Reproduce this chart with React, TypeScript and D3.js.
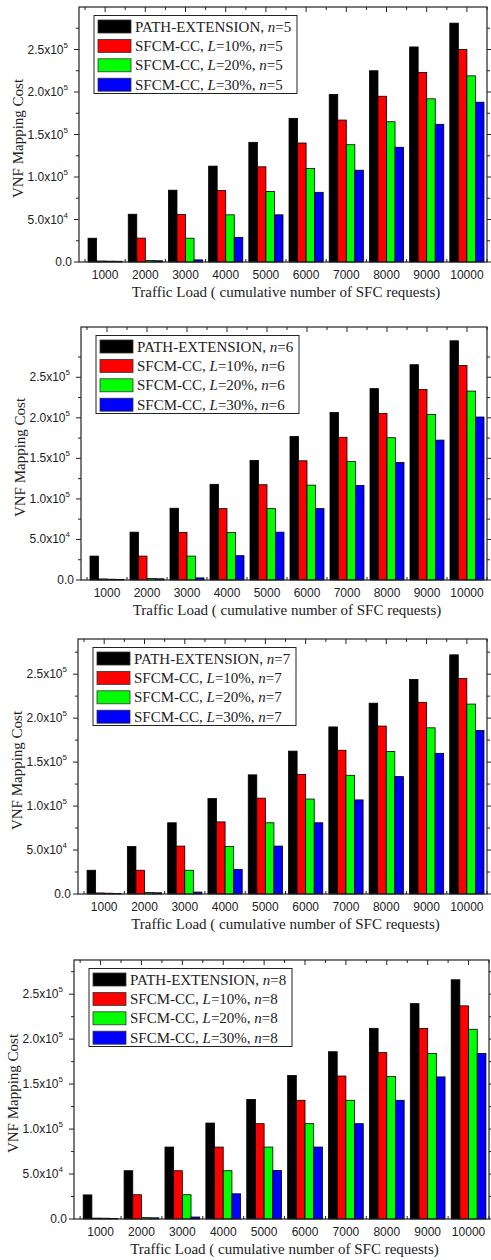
import React from 'react';
import * as d3 from 'd3';

// x categories
const loads = [1000, 2000, 3000, 4000, 5000, 6000, 7000, 8000, 9000, 10000];
const nValues = [5, 6, 7, 8];
const lValues = [10, 20, 30];
const yTicks = [0, 50000, 100000, 150000, 200000, 250000];
const yTickText = ['0.0', '5.0x10|4', '1.0x10|5', '1.5x10|5', '2.0x10|5', '2.5x10|5'];
const yMaxes = [300000, 312000, 290000, 288000];

// n = 5
const pathN5 = [28000, 56200, 84500, 112800, 140800, 169000, 197000, 225000, 253000, 281000];
const cc10N5 = [1200, 28100, 56000, 84000, 112000, 140000, 167000, 195000, 223000, 250000];
const cc20N5 = [1000, 1800, 28000, 55500, 83000, 110000, 138000, 165000, 192000, 219000];
const cc30N5 = [900, 1500, 2500, 29000, 55500, 82000, 108000, 135000, 162000, 188000];
// n = 6
const pathN6 = [29500, 59000, 88500, 118000, 147500, 177000, 206500, 236000, 265500, 295000];
const cc10N6 = [1300, 29500, 58800, 88000, 117500, 147000, 176000, 205500, 235000, 264500];
const cc20N6 = [1000, 2000, 29500, 58500, 88000, 117000, 146000, 175500, 204000, 233000];
const cc30N6 = [800, 1500, 2600, 30000, 59000, 88000, 116500, 145000, 172500, 201000];
// n = 7
const pathN7 = [27000, 54000, 81000, 108500, 135500, 162500, 190000, 217000, 244000, 272000];
const cc10N7 = [1200, 27000, 54500, 82000, 109000, 136000, 163500, 191000, 218000, 245000];
const cc20N7 = [900, 1800, 27000, 54000, 81000, 108000, 135000, 162000, 189000, 216000];
const cc30N7 = [700, 1400, 2200, 28000, 54500, 81000, 107000, 133500, 160000, 186000];
// n = 8
const pathN8 = [26800, 53700, 80000, 106700, 133000, 159600, 186000, 212000, 239500, 266000];
const cc10N8 = [1000, 27000, 53700, 80000, 106000, 132000, 159000, 185000, 212000, 237000];
const cc20N8 = [900, 1500, 27000, 53700, 80000, 106000, 132000, 158400, 184000, 211000];
const cc30N8 = [700, 1300, 2200, 28000, 54000, 80000, 106000, 132000, 158000, 184000];

const panelData = [
  [pathN5, cc10N5, cc20N5, cc30N5],
  [pathN6, cc10N6, cc20N6, cc30N6],
  [pathN7, cc10N7, cc20N7, cc30N7],
  [pathN8, cc10N8, cc20N8, cc30N8],
];

const colors = ['#000000', '#ff0000', '#00ff00', '#0000ff'];

// frame positions of each panel
const frames = [
  { top: 7, bottom: 262, left: 79, right: 487 },
  { top: 327, bottom: 580, left: 81, right: 487 },
  { top: 639, bottom: 894, left: 78, right: 487 },
  { top: 960, bottom: 1219, left: 74, right: 489 },
];

const sans = 'Arial, "Liberation Sans", sans-serif';
const serif = '"Times New Roman", "Liberation Serif", serif';

function Panel({ idx }: { idx: number }) {
  const f = frames[idx];
  const data = panelData[idx];
  const n = nValues[idx];
  const x = d3.scaleLinear().domain([0.35, 10.5]).range([f.left, f.right]);
  const y = d3.scaleLinear().domain([0, yMaxes[idx]]).range([f.bottom, f.top]);
  const sub = d3.scaleBand<number>().domain([0, 1, 2, 3]).range([-0.425, 0.425]);
  const bw = x(sub.bandwidth()) - x(0);

  const minor = d3.range(25000, yMaxes[idx] - 5000, 50000);
  const centers = loads.map((_, i) => i + 1);
  const bounds = d3.range(0, 11).map((i) => i + 0.5);

  const legendRows = [
    [{ t: 'PATH-EXTENSION, ' }, { t: 'n', i: true }, { t: `=${n}` }],
    ...lValues.map((l) => [
      { t: 'SFCM-CC, ' },
      { t: 'L', i: true },
      { t: `=${l}%, ` },
      { t: 'n', i: true },
      { t: `=${n}` },
    ]),
  ];

  const lx = f.left + 15;
  const ly = f.top + 8.5;

  return (
    <g>
      {/* bars */}
      {data.map((vals, s) =>
        vals.map((v, i) => (
          <rect
            key={`${s}-${i}`}
            x={x(i + 1 + (sub(s) as number))}
            y={y(v)}
            width={bw}
            height={y(0) - y(v)}
            fill={colors[s]}
            stroke="#000"
            strokeWidth={0.8}
          />
        ))
      )}
      {/* frame */}
      <rect
        x={f.left}
        y={f.top}
        width={f.right - f.left}
        height={f.bottom - f.top}
        fill="none"
        stroke="#222"
        strokeWidth={1.2}
      />
      {/* left + right y ticks */}
      {yTicks.map((t) => (
        <g key={t}>
          <line x1={f.left - 5} x2={f.left} y1={y(t)} y2={y(t)} stroke="#222" />
          <line x1={f.right} x2={f.right + 5} y1={y(t)} y2={y(t)} stroke="#222" />
        </g>
      ))}
      {minor.map((t) => (
        <g key={t}>
          <line x1={f.left - 3} x2={f.left} y1={y(t)} y2={y(t)} stroke="#222" />
          <line x1={f.right} x2={f.right + 3} y1={y(t)} y2={y(t)} stroke="#222" />
        </g>
      ))}
      {yTickText.map((s, k) => {
        const [base, exp] = s.split('|');
        return (
          <text
            key={s}
            x={f.left - (exp ? 11 : 7)}
            y={y(yTicks[k]) + 4}
            textAnchor="end"
            fontFamily={sans}
            fontSize={12}
            fill="#222"
          >
            {base}
            {exp && (
              <tspan fontSize={8} dy={-6}>
                {exp}
              </tspan>
            )}
          </text>
        );
      })}
      {/* top / bottom x ticks */}
      {centers.map((c) => (
        <g key={c}>
          <line x1={x(c)} x2={x(c)} y1={f.top} y2={f.top + 5} stroke="#222" />
        </g>
      ))}
      {bounds.map((c) => (
        <g key={c}>
          <line x1={x(c)} x2={x(c)} y1={f.top} y2={f.top + 3} stroke="#222" />
          <line x1={x(c)} x2={x(c)} y1={f.bottom} y2={f.bottom - 3} stroke="#222" />
        </g>
      ))}
      {loads.map((l, i) => (
        <text
          key={l}
          x={x(i + 1)}
          y={f.bottom + 17}
          textAnchor="middle"
          fontFamily={sans}
          fontSize={12}
          fill="#222"
        >
          {l}
        </text>
      ))}
      <text
        x={(f.left + f.right) / 2 + 3}
        y={f.bottom + 35}
        textAnchor="middle"
        fontFamily={serif}
        fontSize={15}
        fill="#222"
      >
        Traffic Load ( cumulative number of SFC requests)
      </text>
      <text
        transform={`translate(${f.left - 56},${(f.top + f.bottom) / 2 + 4}) rotate(-90)`}
        textAnchor="middle"
        fontFamily={serif}
        fontSize={15}
        fill="#222"
      >
        VNF Mapping Cost
      </text>
      {/* legend */}
      <rect x={lx} y={ly} width={203} height={78} fill="#fff" stroke="#222" strokeWidth={1} />
      {legendRows.map((row, r) => {
        const cy = ly + 11 + r * 19.4;
        return (
          <g key={r}>
            <rect x={lx + 4} y={cy - 6.5} width={33} height={13} fill={colors[r]} stroke="#333" strokeWidth={0.8} />
            <text x={lx + 41} y={cy + 5} fontFamily={serif} fontSize={15} fill="#222">
              {row.map((p: any, k: number) => (
                <tspan key={k} fontStyle={p.i ? 'italic' : 'normal'}>
                  {p.t}
                </tspan>
              ))}
            </text>
          </g>
        );
      })}
    </g>
  );
}

export default function App() {
  return (
    <svg
      width={491}
      height={1260}
      style={{ position: 'absolute', left: 0, top: 0, background: '#fff' }}
    >
      {frames.map((_, i) => (
        <Panel key={i} idx={i} />
      ))}
    </svg>
  );
}
